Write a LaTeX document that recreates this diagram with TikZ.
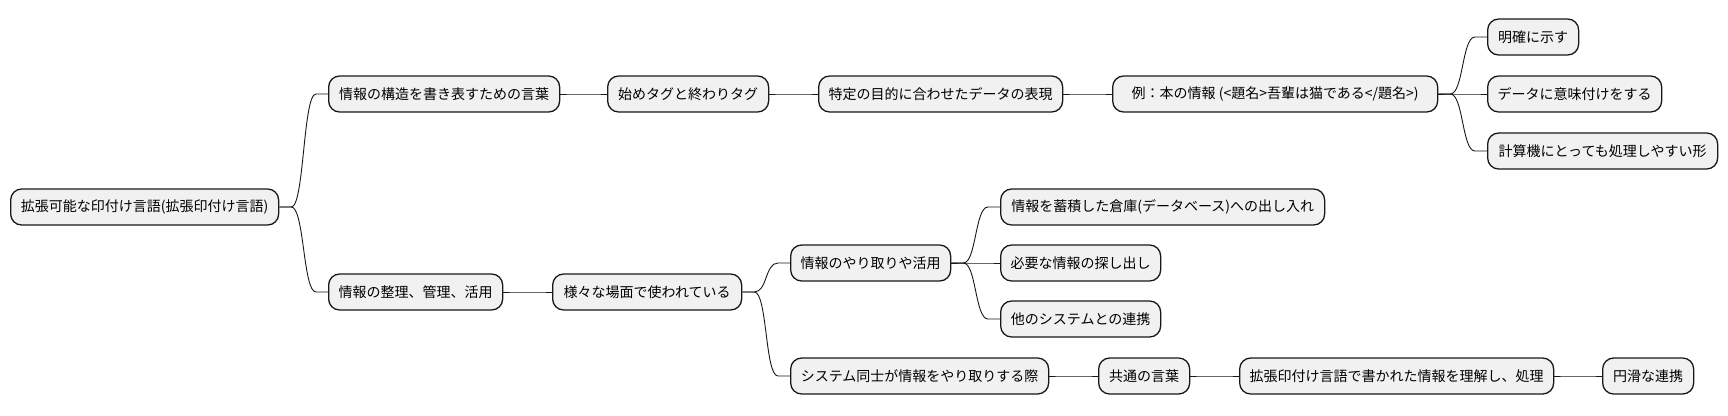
\documentclass[tikz,border=0pt]{standalone}
\usepackage{fontspec}
\setmainfont{Noto Sans CJK JP}
\definecolor{edgecol}{HTML}{181818}
\definecolor{boxfill}{HTML}{F1F1F1}
\newcommand\mmlink[2]{\draw[mmline] (#1.east) -- ++(12,0) .. controls +(13,0) and +(-13,0) .. ([xshift=-12pt]#2.west) -- (#2.west);}
\begin{document}
\begin{tikzpicture}[x=1pt,y=-1pt,
  mmbox/.style={draw=edgecol, fill=boxfill, line width=1.3pt, rounded corners=11pt,
    minimum height=36pt, inner xsep=10pt, inner ysep=0pt, anchor=west,
    font=\fontsize{14pt}{16pt}\selectfont, text=black, minimum width=#1},
  mmbox/.default=10pt,
  mmline/.style={draw=edgecol, line width=0.9pt}]
\useasboundingbox (0,0) rectangle (1728,415);
\node[mmbox=268pt] (root) at (10,207) {\makebox[247pt][c]{拡張可能な印付け言語(拡張印付け言語)}};
\node[mmbox=231pt] (a) at (328,94) {情報の構造を書き表すための言葉};
\node[mmbox=161pt] (t) at (607,94) {始めタグと終わりタグ};
\node[mmbox=243pt] (p) at (818,94) {特定の目的に合わせたデータの表現};
\node[mmbox=325pt] (e) at (1112,94) {例：本の情報 (<題名>吾輩は猫である</題名>)};
\node[mmbox=91pt] (e1) at (1487,37) {明確に示す};
\node[mmbox=174pt] (e2) at (1487,94) {データに意味付けをする};
\node[mmbox=230pt] (e3) at (1487,151) {計算機にとっても処理しやすい形};
\node[mmbox=173pt] (b) at (328,292) {情報の整理、管理、活用};
\node[mmbox=189pt] (s) at (552,292) {様々な場面で使われている};
\node[mmbox=160pt] (i) at (790,263) {情報のやり取りや活用};
\node[mmbox=324pt] (i1) at (1000,207) {情報を蓄積した倉庫(データベース)への出し入れ};
\node[mmbox=160pt] (i2) at (1000,263) {必要な情報の探し出し};
\node[mmbox=160pt] (i3) at (1000,319) {他のシステムとの連携};
\node[mmbox=258pt] (y) at (790,376) {システム同士が情報をやり取りする際};
\node[mmbox=91pt] (k) at (1098,376) {共通の言葉};
\node[mmbox=314pt] (l) at (1239,376) {拡張印付け言語で書かれた情報を理解し、処理};
\node[mmbox=91pt] (m) at (1602,376) {円滑な連携};
\mmlink{root}{a}
\mmlink{a}{t}
\mmlink{t}{p}
\mmlink{p}{e}
\mmlink{e}{e1}
\mmlink{e}{e2}
\mmlink{e}{e3}
\mmlink{root}{b}
\mmlink{b}{s}
\mmlink{s}{i}
\mmlink{i}{i1}
\mmlink{i}{i2}
\mmlink{i}{i3}
\mmlink{s}{y}
\mmlink{y}{k}
\mmlink{k}{l}
\mmlink{l}{m}
\end{tikzpicture}
\end{document}
